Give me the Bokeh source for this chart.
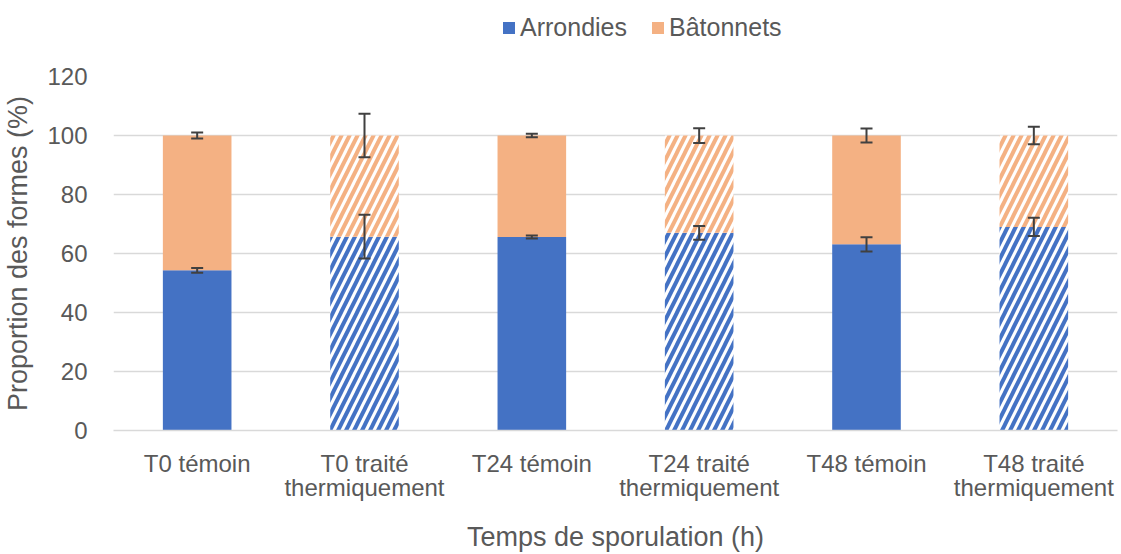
from bokeh.plotting import figure
from bokeh.layouts import column
from bokeh.models import (ColumnDataSource, Whisker, TeeHead, Legend, LegendItem,
                          FixedTicker, Range1d)
from bokeh.embed import file_html
from bokeh.resources import INLINE

categories = ["T0 témoin", "T0 traité\nthermiquement", "T24 témoin",
              "T24 traité\nthermiquement", "T48 témoin", "T48 traité\nthermiquement"]
treated = [False, True, False, True, False, True]
arrondies = [54.3, 65.7, 65.6, 67.0, 63.1, 69.0]
batonnets = [round(100 - a, 1) for a in arrondies]
err_arrondies = [0.8, 7.4, 0.5, 2.3, 2.4, 3.1]
err_batonnets = [1.0, 7.4, 0.6, 2.5, 2.4, 3.0]
y_ticks = [0, 20, 40, 60, 80, 100, 120]
series = ["Arrondies", "Bâtonnets"]

BLUE = "#4472C4"
ORANGE = "#F4B183"
GREY_TXT = "#595959"
FONT = "Liberation Sans"

xs = [i + 0.5 for i in range(len(categories))]
tops_a = arrondies
tops_b = [a + b for a, b in zip(arrondies, batonnets)]

TOP_H = 56
p = figure(width=1121, height=554 - TOP_H, output_backend="svg", toolbar_location=None,
           x_range=Range1d(0, 6), y_range=Range1d(0, 120),
           min_border_left=108, min_border_right=4, min_border_top=76 - TOP_H,
           min_border_bottom=123)
p.outline_line_color = None
p.background_fill_color = "white"
p.border_fill_color = "white"

solid = [i for i, t in enumerate(treated) if not t]
hatched = [i for i, t in enumerate(treated) if t]

def sub(lst, idx):
    return [lst[i] for i in idx]

W = 0.41
src_s = ColumnDataSource(dict(x=sub(xs, solid), a=sub(tops_a, solid), b=sub(tops_b, solid),
                              z=[0] * len(solid)))
p.vbar(x="x", bottom="z", top="a", width=W, source=src_s, fill_color=BLUE, line_color=None)
p.vbar(x="x", bottom="a", top="b", width=W, source=src_s, fill_color=ORANGE, line_color=None)
src_h = ColumnDataSource(dict(x=sub(xs, hatched), a=sub(tops_a, hatched), b=sub(tops_b, hatched),
                              z=[0] * len(hatched)))
p.vbar(x="x", bottom="z", top="a", width=W, source=src_h, fill_color="white", line_color=None,
       hatch_pattern="right_diagonal_line", hatch_color=BLUE, hatch_weight=4, hatch_scale=16)
p.vbar(x="x", bottom="a", top="b", width=W, source=src_h, fill_color="white", line_color=None,
       hatch_pattern="right_diagonal_line", hatch_color=ORANGE, hatch_weight=4, hatch_scale=16)

for tops, errs in ((tops_a, err_arrondies), (tops_b, err_batonnets)):
    src_e = ColumnDataSource(dict(x=xs, up=[t + e for t, e in zip(tops, errs)],
                                  lo=[t - e for t, e in zip(tops, errs)]))
    wk = Whisker(source=src_e, base="x", upper="up", lower="lo", line_color="#404040",
                 line_width=2, level="overlay",
                 upper_head=TeeHead(size=12, line_color="#404040", line_width=2),
                 lower_head=TeeHead(size=12, line_color="#404040", line_width=2))
    p.add_layout(wk)

p.xaxis.ticker = FixedTicker(ticks=xs)
p.xaxis.major_label_overrides = {x: c for x, c in zip(xs, categories)}
p.yaxis.ticker = FixedTicker(ticks=y_ticks)
p.xgrid.grid_line_color = None
p.ygrid.grid_line_color = "#D9D9D9"
p.ygrid.grid_line_width = 1.5
p.yaxis.axis_line_color = None
p.yaxis.major_tick_line_color = None
p.yaxis.minor_tick_line_color = None
p.xaxis.axis_line_color = "#D9D9D9"
p.xaxis.axis_line_width = 1.5
p.xaxis.major_tick_line_color = None
p.xaxis.minor_tick_line_color = None
for ax in (p.xaxis[0], p.yaxis[0]):
    ax.major_label_text_font = FONT
    ax.major_label_text_font_size = "24px"
    ax.major_label_text_color = GREY_TXT
    ax.axis_label_text_font = FONT
    ax.axis_label_text_font_size = "27px"
    ax.axis_label_text_font_style = "normal"
    ax.axis_label_text_color = GREY_TXT
p.xaxis.major_label_text_line_height = 0.9
p.yaxis.axis_label = "Proportion des formes (%)"
p.xaxis.axis_label = "Temps de sporulation (h)"
p.yaxis.major_label_standoff = 20
p.xaxis.major_label_standoff = 13
p.xaxis.axis_label_standoff = 18
p.yaxis.axis_label_standoff = 11

# legend in a small top figure
lf = figure(width=1121, height=TOP_H, output_backend="svg", toolbar_location=None,
            x_axis_type=None, y_axis_type=None, x_range=Range1d(0, 1), y_range=Range1d(0, 1),
            min_border_left=0, min_border_right=0, min_border_top=0, min_border_bottom=0)
lf.outline_line_color = None
lf.xgrid.grid_line_color = None
lf.ygrid.grid_line_color = None
la = lf.rect(x=[-5], y=[-5], width=0.1, height=0.1, fill_color=BLUE, line_color=None)
lb = lf.rect(x=[-5], y=[-5], width=0.1, height=0.1, fill_color=ORANGE, line_color=None)
legend = Legend(items=[LegendItem(label=series[0], renderers=[la]),
                       LegendItem(label=series[1], renderers=[lb])],
                orientation="horizontal", location=(388, 14),
                label_text_font=FONT, label_text_font_size="25px",
                label_text_color=GREY_TXT, glyph_width=15, glyph_height=15,
                spacing=23, label_standoff=4, border_line_color=None,
                background_fill_alpha=0, padding=0, margin=0)
lf.add_layout(legend, "center")

layout = column(lf, p, spacing=0)
open("out.html", "w").write(file_html(layout, INLINE))
